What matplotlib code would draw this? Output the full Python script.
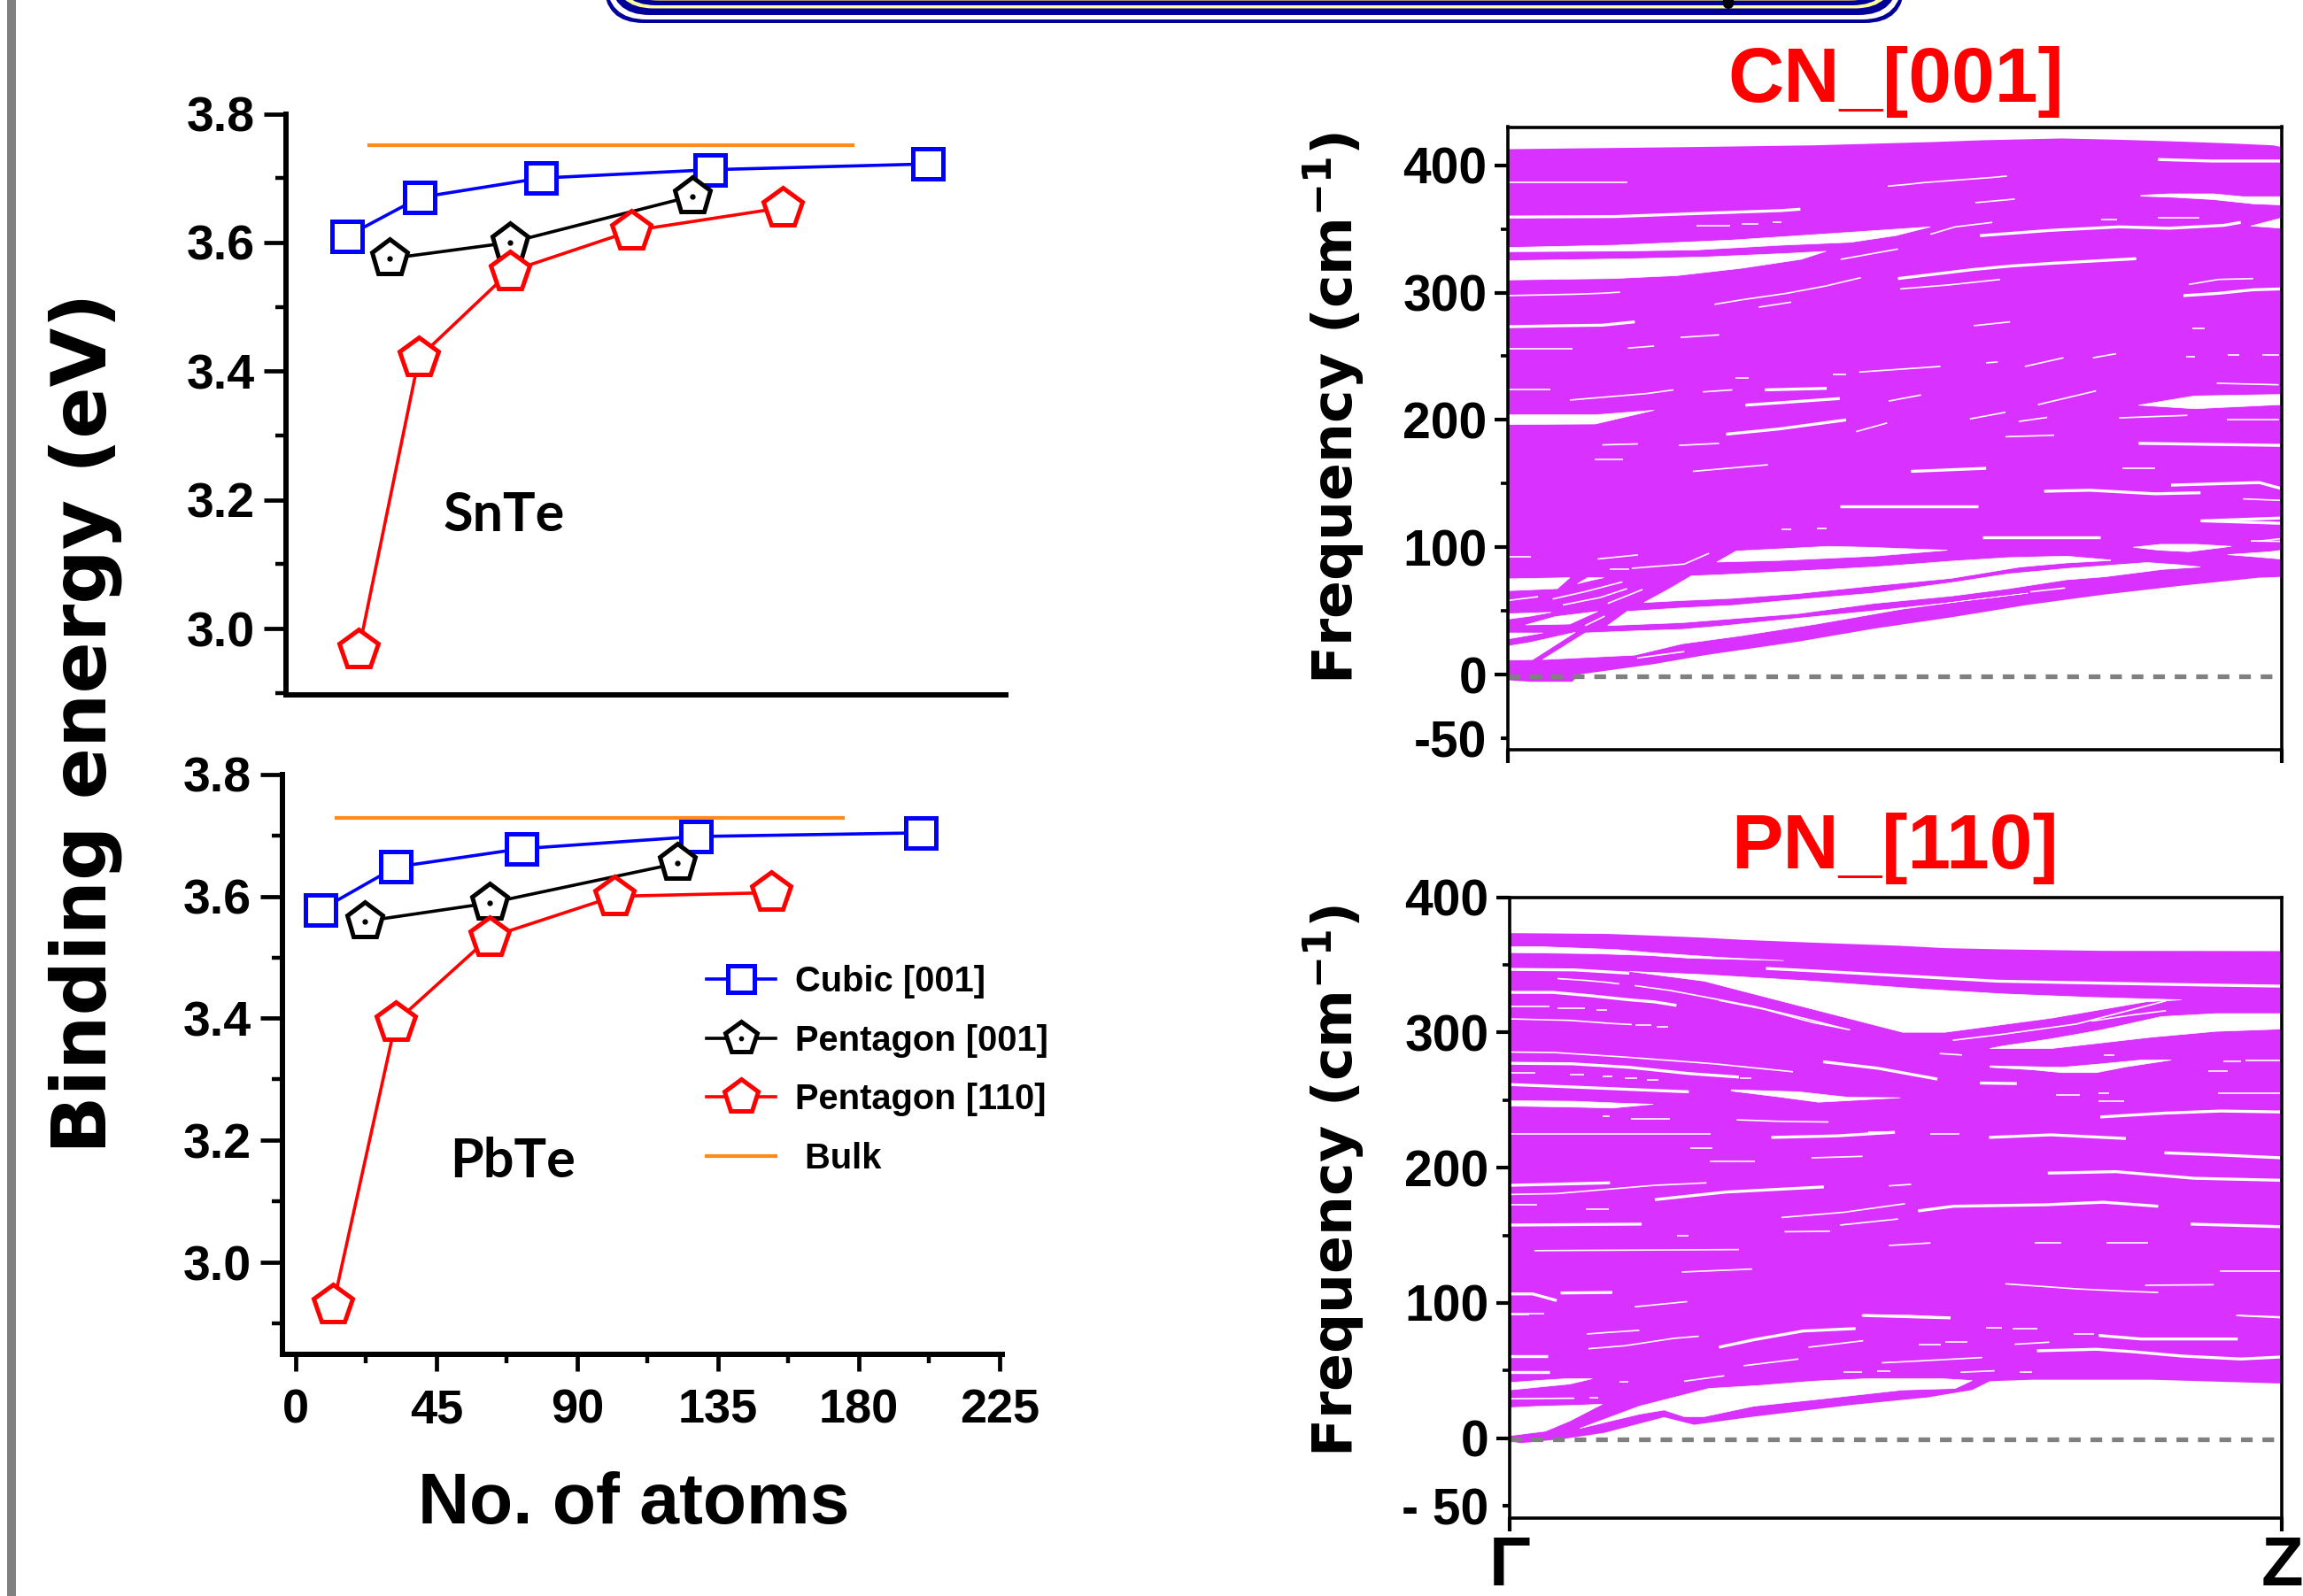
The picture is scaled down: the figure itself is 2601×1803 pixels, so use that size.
import numpy as np
import matplotlib
matplotlib.use("Agg")
import matplotlib.pyplot as plt
from matplotlib.patches import FancyBboxPatch, Ellipse, Rectangle
from matplotlib.ticker import MultipleLocator, FixedLocator

plt.rcParams["font.family"] = ["Liberation Sans", "DejaVu Sans"]
plt.rcParams["font.weight"] = "bold"
plt.rcParams["axes.unicode_minus"] = False
plt.rcParams["mathtext.fontset"] = "custom"
plt.rcParams["mathtext.bf"] = "DejaVu Sans:bold"
plt.rcParams["mathtext.rm"] = "DejaVu Sans:bold"

W, H = 2601, 1803

# Binding energy data, SnTe
snte_cubic_x = [15.4, 38.6, 77.3, 131.3, 201]
snte_cubic_y = [3.610, 3.670, 3.700, 3.713, 3.722]
snte_p001_x = [29, 67.5, 125.7]
snte_p001_y = [3.575, 3.600, 3.672]
snte_p110_x = [19.1, 38.3, 67.4, 106.2, 154.5]
snte_p110_y = [2.967, 3.421, 3.555, 3.618, 3.654]
snte_bulk_x = [22.4, 177]
snte_bulk_y = [3.751, 3.751]

# Binding energy data, PbTe
pbte_cubic_x = [8, 32, 72.1, 128, 200]
pbte_cubic_y = [3.578, 3.648, 3.678, 3.698, 3.704]
pbte_p001_x = [22, 62, 122]
pbte_p001_y = [3.559, 3.589, 3.654]
pbte_p110_x = [12, 32, 62, 102, 152]
pbte_p110_y = [2.930, 3.394, 3.533, 3.600, 3.606]
pbte_bulk_x = [13, 175]
pbte_bulk_y = [3.729, 3.729]

legend_labels = ["Cubic [001]", "Pentagon [001]", "Pentagon [110]", " Bulk"]

# CN_[001] phonon bands: envelope of the band mass
cn_top_k = [0, .231, .395, .478, .549, .613, .716, .79, .876, .938, .989, 1]
cn_top_f = [412.6, 414.2, 415.6, 417, 418.2, 419.6, 421, 420, 418.4, 417, 415.6, 414.2]
cn_low_k = [0, .029, .083, .093, .189, .255, .374, .474, .573, .672, .771, .87, .97, 1]
cn_low_f = [-4.4, -5.6, -5.6, .2, 8.3, 15.3, 25.8, 36.2, 45, 54.8, 62.9, 69.8, 76.1, 76.8]

# CN_[001]: open areas between the bands
cn_open = [
    [(0, 325), (.164, 326.6), (.257, 328), (.36, 330.7), (.411, 332.4), (.379, 326.1),
     (.302, 319.1), (.218, 313.3), (.135, 311), (0, 309.9)],
    [(0, 335.4), (.141, 337.2), (.289, 341.2), (.417, 346.3), (.546, 351.6), (.501, 344.7),
     (.443, 339.5), (.353, 337.2), (.244, 333.5), (.148, 332.6), (0, 332.1)],
    [(.96, 352.3), (1, 358.6), (1, 350.5)],
    [(.818, 376.4), (.854, 377.5), (.912, 377.5), (.95, 375.3), (1, 375.3), (1, 368.8),
     (.963, 369.7), (.912, 373), (.861, 374.8), (.818, 375.7)],
    [(0, 204), (.113, 204), (.189, 207.6), (.113, 196.8), (0, 196.4)],
    [(.815, 211.6), (.887, 218.8), (1, 220), (1, 212), (.887, 208.8)],
    [(.27, 88.4), (.295, 97), (.414, 100.7), (.464, 100), (.568, 97.7), (.473, 93), (.349, 89.6)],
    [(.808, 100), (.843, 102.3), (.89, 102.3), (.935, 100.7), (.88, 96.5), (.841, 97.7)],
    [(.93, 94.2), (.985, 96.5), (1, 97.7), (1, 90.7), (.955, 93)],
    [(.176, 56.6), (.209, 67.5), (.237, 77.5), (.275, 78.4), (.414, 82.6), (.483, 84.9),
     (.573, 89.1), (.647, 91.9), (.722, 93), (.779, 90), (.779, 89.6), (.722, 87.7),
     (.662, 84.5), (.573, 75.6), (.473, 69.8), (.374, 63.6), (.29, 59.9), (.225, 58.2)],
    [(.154, 49.6), (.225, 52.4), (.29, 54.3), (.349, 57.6), (.473, 64), (.573, 72.2),
     (.647, 79.1), (.722, 83.3), (.826, 88), (.87, 86.1), (.895, 84.5), (.846, 82.6),
     (.771, 76.8), (.722, 74.5), (.647, 67.5), (.573, 61.7), (.473, 55.9), (.374, 47.8),
     (.275, 43.2), (.225, 40.8), (.129, 38.5)],
    [(.045, 11.8), (.1, 32.7), (.164, 34.3), (.225, 35.5), (.275, 38.1), (.349, 42.7),
     (.473, 50.1), (.573, 56.6), (.672, 64), (.583, 57.5), (.508, 51.3), (.399, 39.7),
     (.3, 30.4), (.225, 24.2), (.164, 15.3)],
    [(0, 75.2), (.08, 76.1), (.064, 67.5), (0, 65.9)],
    [(.09, 71.4), (.103, 76.1), (.124, 76.1), (.106, 73.7)],
    [(0, 47.8), (.056, 48.9), (.029, 45.9), (0, 43.6)],
    [(.023, 39), (.08, 39.7), (.116, 49.6), (.061, 45.5)],
    [(0, 32.7), (.045, 32.7), (0, 28)],
    [(0, 22.3), (.029, 25.3), (.087, 33.2), (.032, 11.8), (0, 11.4)],
]

# CN_[001]: wider slits
cn_wide = [
    [(0, 359.3), (.138, 359.7), (.241, 362), (.353, 364.4), (.378, 365.5)],
    [(0, 273.2), (.064, 273.9), (.122, 274.4), (.164, 277)],
    [(.61, 344.7), (.70, 348.8), (.79, 351.6), (.854, 350.5), (.925, 352.8), (.947, 355.1)],
    [(.873, 297.6), (.918, 299.4), (.963, 302.2), (1, 302.9)],
    [(.504, 311), (.552, 314.5), (.6, 318), (.649, 320.8), (.706, 323.1), (.812, 326.6)],
    [(.282, 188.8), (.349, 192.8), (.437, 200)],
    [(.307, 211.6), (.429, 216.8)],
    [(.332, 223.6), (.412, 224.8)],
    [(.521, 159.6), (.618, 162)],
    [(.429, 132), (.608, 132)],
    [(.613, 107.6), (.765, 107.6)],
    [(.693, 144), (.752, 144.8), (.836, 142), (.895, 142.8)],
    [(.815, 181.6), (1, 180)],
    [(.857, 148.8), (.971, 150.8), (1, 146)],
    [(.895, 120.8), (1, 118.8)],
    [(.9, 120.8), (1, 123)],
    [(.84, 404.5), (.909, 403.3), (1, 403.3)],
]

# CN_[001]: thin slits
cn_thin = [
    [(0, 386.4), (.154, 386.4)],
    [(.244, 352.3), (.287, 352.3)], [(.302, 353.7), (.324, 353.7)], [(.342, 355.1), (.354, 355.1)],
    [(.491, 383.6), (.514, 384.8), (.538, 386.4), (.588, 388.7), (.626, 390.4), (.645, 391.5)],
    [(.604, 370.6), (.655, 373.4)],
    [(.546, 345.8), (.578, 351.6), (.626, 355.1)],
    [(.767, 357.6), (.787, 357.6)], [(.84, 358.8), (.894, 358.8)],
    [(.267, 290.8), (.302, 294.3), (.36, 299.4), (.411, 305.2), (.456, 311.7)],
    [(0, 297.6), (.087, 298.7), (.119, 299.4), (.145, 300.3)],
    [(.507, 302.9), (.57, 306), (.636, 310.3)],
    [(.88, 306.4), (.918, 310.3), (.963, 311)],
    [(.43, 326.1), (.504, 334.2)],
    [(.324, 288.5), (.366, 292.5)],
    [(.602, 274), (.649, 277)],
    [(0, 255.6), (.084, 255.6)], [(.155, 256.4), (.189, 258)],
    [(.223, 264.8), (.273, 266.8)], [(0, 223.6), (.055, 223.6)],
    [(.08, 215.6), (.181, 220.8), (.214, 223.6)],
    [(.122, 180.4), (.168, 181.2)], [(.221, 180), (.273, 181.6)],
    [(.112, 168.8), (.149, 168.8)], [(.239, 159.6), (.336, 164.8)],
    [(.252, 222), (.29, 223.6)], [(.294, 232.8), (.311, 232.8)],
    [(.42, 236), (.437, 236)], [(.454, 237.6), (.559, 242)],
    [(.492, 214.8), (.534, 219.6)], [(.45, 190.8), (.49, 197.6)],
    [(.618, 244.8), (.633, 245.5)], [(.668, 242), (.718, 248.8)], [(.756, 248.8), (.786, 252)],
    [(.597, 200.8), (.643, 206)], [(.66, 198.8), (.697, 202)],
    [(.685, 212), (.76, 222.8)], [(.643, 186.8), (.706, 188)],
    [(.794, 162), (.836, 162)], [(.916, 228.8), (.996, 227.6)],
    [(.79, 201.6), (.878, 203.6)], [(.929, 200.4), (.996, 200.4)],
    [(.95, 138), (1, 136.8)], [(.97, 104.8), (1, 106.8)],
    [(.885, 271.6), (.9, 271.6)], [(.877, 249.6), (.888, 249.6)],
    [(.93, 250.8), (.945, 250.8)], [(.975, 250.8), (.996, 250.8)],
    [(.353, 114), (.366, 114)], [(.399, 114.8), (.412, 114.8)],
    [(0, 92.4), (.03, 92.4)], [(.116, 90.8), (.168, 94)],
    [(.16, 83.5), (.228, 86.8), (.26, 95.3)], [(.132, 82.6), (.157, 82.6)],
    [(0, 58.2), (.039, 61.2)], [(.058, 59.4), (.1, 65.2), (.148, 72.8)],
    [(.071, 54.7), (.119, 60.5), (.154, 67.5)], [(.129, 55.9), (.174, 66.8)],
    [(.1, 38.5), (.125, 45.9)], [(.167, 13), (.228, 18.1)], [(.675, 65), (.72, 68)],
    [(.96, 105), (1, 104.6)],
]

# PN_[110] phonon bands: envelope of the band mass
pn_top_k = [0, .128, .197, .252, .303, .4, .503, .564, .638, .767, 1]
pn_top_f = [373.4, 372.8, 371.3, 370, 368.4, 366.2, 364.1, 362.3, 361.4, 360.3, 360.1]
pn_low_k = [0, .014, .072, .123, .2, .239, .316, .445, .541, .599, .622, .677, .831, .921, 1]
pn_low_f = [-2, -3.6, -.3, 4.1, 15.6, 10, 16, 24.8, 30.2, 35.7, 42.2, 43.3, 43.3, 41.8, 40.5]

# PN_[110]: open areas between the bands
pn_open = [
    [(.155, 345.1), (.252, 342.7), (.393, 337.9), (.535, 332), (.638, 328.5), (.754, 325.9),
     (.87, 324.1), (.824, 322.6), (.702, 310.6), (.564, 300.1), (.509, 300.1), (.445, 309.5),
     (.348, 323.7), (.252, 337.9)],
    [(0, 363.4), (.039, 363.4), (.139, 361.2), (.181, 359), (.277, 355.3), (.355, 353.1),
     (.232, 354.9), (.181, 356.9), (.11, 358.2), (0, 359)],
    [(.622, 288.1), (.638, 289.9), (.702, 295.3), (.767, 301.9), (.844, 311.7), (.915, 313.9),
     (1, 313.9), (1, 302.5), (.915, 300.8), (.83, 296.4), (.702, 288.1)],
    [(.622, 275.3), (.715, 274.2), (.767, 276.8), (.818, 279.6), (.857, 279.6), (.799, 274.6),
     (.76, 270.3), (.715, 270.3), (.677, 272.4), (.622, 274.2)],
    [(.287, 257.6), (.374, 256.1), (.438, 252.1), (.506, 251.7), (.4, 248.4), (.348, 252.4),
     (.287, 256.7)],
    [(0, 249.5), (.084, 249.1), (.139, 247.8), (.186, 246.9), (.133, 244.1), (.091, 244.7),
     (0, 245.6)],
    [(0, 22.6), (.039, 23.7), (.088, 24.4), (.12, 25.2), (.078, 12.8), (.046, 5.2), (.02, 3.4),
     (0, 1.9)],
    [(.091, 7.3), (.168, 23.7), (.258, 36.8), (.323, 39), (.393, 42.2), (.461, 44), (.561, 44),
     (.599, 42.7), (.577, 36.8), (.509, 35.7), (.406, 29.2), (.316, 23.7), (.252, 16),
     (.226, 16), (.2, 20.9), (.168, 17.8), (.123, 11.7)],
    [(0, 41.2), (.036, 42.7), (.072, 44), (.107, 44), (.078, 40.1), (.046, 38.3), (0, 35.7)],
]

# PN_[110]: wider slits
pn_wide = [
    [(0, 346.6), (.084, 346.2), (.155, 343.8)],
    [(.332, 347.3), (.393, 345.5), (.483, 342.7), (.631, 337.9), (.767, 336.4), (.895, 335.1),
     (1, 334.2)],
    [(0, 329.6), (.056, 329.6), (.107, 327), (.155, 324.1), (.187, 322.6), (.216, 320)],
    [(0, 277.2), (.081, 276.8), (.155, 274.2), (.232, 269.6), (.297, 267)],
    [(.406, 278.3), (.477, 273.5), (.554, 265.5)],
    [(0, 261.5), (.075, 259.8), (.168, 257.6), (.232, 256.1)],
    [(.609, 262.6), (.657, 262.2)],
    [(.765, 237.5), (.85, 240.4), (.921, 241.9), (1, 241.2)],
    [(.339, 222.4), (.423, 223.5), (.499, 226.2)],
    [(.621, 222.4), (.701, 224.3), (.798, 221.6)],
    [(.697, 196), (.785, 197.1), (.886, 192.2), (1, 190.7)],
    [(.848, 211), (.912, 209.6), (1, 207.3)],
    [(0, 187), (.13, 188.8)],
    [(.188, 176.4), (.28, 182), (.407, 185.8)],
    [(0, 157.6), (.171, 158.3)],
    [(.529, 168.1), (.575, 171.5), (.693, 172.6), (.769, 174.5), (.84, 171.5)],
    [(.882, 158.3), (1, 156.4)],
    [(.066, 107.4), (.133, 107.8)],
    [(0, 106.7), (.03, 106.7), (.061, 101.8)],
    [(.457, 90.8), (.571, 89)],
    [(0, 60.8), (.049, 60.8)], [(0, 49.2), (.052, 49.2)],
    [(.271, 67.3), (.316, 72.8), (.38, 79.3), (.448, 81.1)],
    [(.683, 64.7), (.76, 65.8), (.805, 64.1), (.87, 60.8), (.947, 58.6), (1, 60.1)],
    [(.763, 76), (.818, 73.4), (.943, 73.4)],
]

# PN_[110]: thin slits
pn_thin = [
    [(.062, 339.8), (.097, 338.5), (.123, 337.2), (.142, 335.9)],
    [(.162, 334.6), (.207, 331.1), (.252, 326.3), (.316, 319.3), (.38, 310.6), (.432, 303)],
    [(.271, 323.7), (.329, 317.2), (.393, 307.3), (.441, 301.9)],
    [(0, 318.9), (.052, 318.9)], [(.062, 317.8), (.097, 317.8)], [(.112, 316.5), (.126, 316.5)],
    [(0, 310), (.078, 308.9), (.13, 306.7), (.158, 305.8)],
    [(.163, 305.4), (.184, 305.4)], [(.19, 304), (.205, 304)],
    [(.574, 294.2), (.638, 298.6), (.734, 306.2), (.85, 323.3)],
    [(.754, 308.4), (.805, 312.8), (.85, 316.1)],
    [(0, 285.5), (.059, 285.1), (.149, 281.8), (.265, 276.8), (.367, 270.9)],
    [(0, 269.8), (.033, 269.8)], [(.078, 268.7), (.096, 268.7)], [(.12, 267.6), (.133, 267.6)],
    [(.149, 266.1), (.165, 266.1)], [(.178, 264.8), (.193, 264.8)], [(.298, 266.1), (.313, 266.1)],
    [(.557, 284.4), (.586, 283.3)], [(.707, 253.9), (.738, 253.9)], [(.763, 255), (.776, 255)],
    [(.763, 249.1), (.796, 249.1)], [(.918, 255), (1, 255)], [(.905, 271.3), (.93, 271.3)],
    [(.924, 278.3), (.947, 278.3)], [(.953, 279.6), (1, 279.6)], [(.77, 283.3), (.783, 283.3)],
    [(.12, 238), (.13, 238)], [(.157, 236.4), (.207, 236.4)],
    [(.294, 235.4), (.348, 234.3), (.413, 233.8)], [(.464, 226), (.496, 226)],
    [(0, 224.7), (.26, 224.7)], [(.234, 214.8), (.263, 214.8)], [(.259, 204.7), (.318, 204.7)],
    [(.391, 207.3), (.457, 208.4)], [(.545, 224.7), (.583, 224.7)], [(.491, 186.6), (.52, 187.7)],
    [(0, 180.2), (.061, 180.9), (.188, 187), (.255, 188.8)],
    [(0, 172.6), (.036, 172.6)], [(.099, 169.6), (.129, 169.6)],
    [(.352, 163.2), (.432, 167), (.512, 173.4)], [(.356, 152.7), (.415, 153)],
    [(.428, 157.6), (.503, 162.1)], [(.032, 138.7), (.297, 139.5)], [(.217, 150), (.232, 150)],
    [(.223, 122.9), (.314, 125.1)], [(.491, 142.5), (.545, 144.4)], [(.68, 144.4), (.714, 144.4)],
    [(.773, 144.4), (.827, 144.4)], [(.92, 123.6), (1, 123.6)],
    [(.642, 114.2), (.735, 110.4), (.802, 108.6), (.84, 107.8)], [(.823, 113.1), (.912, 113.5)],
    [(0, 92), (.045, 92)], [(.162, 97.2), (.23, 101)], [(.941, 90.8), (1, 89.7)],
    [(0, 29.2), (.084, 29.6)], [(.103, 30), (.115, 30)], [(0, 91.8), (.025, 91.8)],
    [(.1, 77.1), (.126, 78.2), (.168, 79.8)], [(.102, 66.2), (.149, 68.4), (.213, 73.9), (.245, 75.4)],
    [(.387, 67.3), (.458, 72.1)], [(.456, 90.7), (.519, 90.7), (.57, 89.1)],
    [(.303, 53.6), (.374, 58.6)], [(.482, 55.8), (.528, 57.1), (.577, 58.6), (.612, 59.7)],
    [(.731, 77), (.757, 77)], [(.654, 69.5), (.699, 71)], [(.53, 69.5), (.558, 69.5)],
    [(.564, 71), (.593, 71)], [(.617, 82), (.638, 82)], [(.651, 80.9), (.683, 80.9)],
    [(.432, 48.8), (.456, 48.8)], [(.476, 49.9), (.493, 49.9)], [(.584, 48.8), (.628, 49.9)],
    [(.66, 48.8), (.677, 48.8)], [(.226, 42.2), (.278, 46.2)], [(.142, 41.6), (.154, 41.6)],
    [(.944, 90.7), (1, 89.1)],
]

band_color = "#D931FF"


def add_axes_px(left, top, right, bottom):
    return fig.add_axes([left / W, 1 - bottom / H, (right - left) / W, (bottom - top) / H])


def text_px(x, y, s, **kwargs):
    return fig.text(x / W, 1 - y / H, s, ha="center", **kwargs)


def plot_binding(ax, cubic, p001, p110, bulk):
    ax.plot(bulk[0], bulk[1], color="#FF8C1A", lw=3, zorder=2)
    l1, = ax.plot(cubic[0], cubic[1], color="#0000FF", lw=2.6, marker="s", ms=24, mew=3.6, mfc="white", zorder=3)
    l2, = ax.plot(p001[0], p001[1], color="black", lw=2.6, marker="p", ms=31, mew=3.6, mfc="white", zorder=4)
    d2, = ax.plot(p001[0], p001[1], ls="none", color="black", marker="o", ms=3.5, zorder=4)
    l3, = ax.plot(p110[0], p110[1], color="#FF0000", lw=2.6, marker="p", ms=33, mew=3.6, mfc="white", zorder=5)
    for s in ["top", "right"]:
        ax.spines[s].set_visible(False)
    for s in ["left", "bottom"]:
        ax.spines[s].set_linewidth(4.3)
    ax.set_xlim(-4.2, 225.9)
    ax.set_yticks([3.0, 3.2, 3.4, 3.6, 3.8])
    ax.set_yticklabels(["3.0", "3.2", "3.4", "3.6", "3.8"])
    ax.yaxis.set_minor_locator(MultipleLocator(0.1))
    ax.tick_params(axis="y", which="major", length=18, width=3.4, labelsize=40, pad=7)
    ax.tick_params(axis="y", which="minor", length=9, width=3.2)
    ax.patch.set_alpha(0)
    return l1, l2, d2, l3


def plot_bands(ax, top_k, top_f, low_k, low_f, open_areas, wide, thin):
    ax.fill(np.r_[top_k, low_k[::-1]], np.r_[top_f, low_f[::-1]], color=band_color, lw=0, zorder=2)
    for poly in open_areas:
        pts = np.array(poly)
        ax.fill(pts[:, 0], pts[:, 1], color="white", lw=0.5, zorder=3)
    for seg in wide:
        pts = np.array(seg)
        ax.plot(pts[:, 0], pts[:, 1], color="white", lw=2.4, solid_capstyle="butt", zorder=3)
    for seg in thin:
        pts = np.array(seg)
        ax.plot(pts[:, 0], pts[:, 1], color="white", lw=1.2, solid_capstyle="butt", zorder=3)
    ax.plot([0, 0.99], [-1, -1], color="#808080", lw=3.8, dashes=(2.5, 2.1), zorder=4)
    ax.set_xlim(0, 1)
    ax.set_xticks([0, 1])
    for s in ax.spines.values():
        s.set_linewidth(2.6)
        s.set_zorder(6)
    ax.tick_params(axis="both", which="major", length=11, width=3)
    ax.tick_params(axis="y", which="major", labelsize=41, pad=6)
    ax.tick_params(axis="y", which="minor", length=6, width=2.6)
    ax.yaxis.set_minor_locator(FixedLocator([50, 150, 250, 350]))


fig = plt.figure(figsize=(W / 100, H / 100), dpi=100)

# slide decoration around the chart
bg = fig.add_axes([0, 0, 1, 1])
bg.set_xlim(0, W)
bg.set_ylim(H, 0)
bg.axis("off")
bg.add_patch(Rectangle((8, 0), 10, H, color="#808080", lw=0))
frames = [(682, 26, "#000099"), (685, 22, "white"), (689, 17, "#000099"), (693, 9.5, "#FFFF99"),
          (696, 6, "#000099"), (700, 1, "#A09070")]
for inset, low, col in frames:
    bg.add_patch(FancyBboxPatch((inset, -100), 2833 - 2 * inset, low + 100,
                                boxstyle="round,pad=0,rounding_size=45", color=col, lw=0))
bg.add_patch(Ellipse((1952, 3), 13, 14, color="black", lw=0))

# SnTe
ax1 = add_axes_px(323, 128.5, 1136, 785)
plot_binding(ax1, (snte_cubic_x, snte_cubic_y), (snte_p001_x, snte_p001_y),
             (snte_p110_x, snte_p110_y), (snte_bulk_x, snte_bulk_y))
ax1.set_ylim(2.897, 3.8)
ax1.set_xticks([])
text_px(569, 600, "SnTe", fontsize=44, family="Lato", weight="bold")

# PbTe
ax2 = add_axes_px(319, 874.7, 1132, 1529.6)
handles = plot_binding(ax2, (pbte_cubic_x, pbte_cubic_y), (pbte_p001_x, pbte_p001_y),
                       (pbte_p110_x, pbte_p110_y), (pbte_bulk_x, pbte_bulk_y))
ax2.set_ylim(2.85, 3.8)
ax2.set_xticks([0, 45, 90, 135, 180, 225])
ax2.xaxis.set_minor_locator(MultipleLocator(22.5))
ax2.tick_params(axis="x", which="major", length=14, width=3.4, labelsize=39, pad=14)
ax2.tick_params(axis="x", which="minor", length=7, width=3.2)
text_px(579, 1330, "PbTe", fontsize=44, family="Lato", weight="bold")

bulk_line = ax2.get_lines()[0]
ax2.legend([handles[0], (handles[1], handles[2]), handles[3], bulk_line], legend_labels,
           loc="upper left", bbox_to_anchor=(798 / W, 1 - 1090 / H), bbox_transform=fig.transFigure,
           frameon=False, fontsize=28.7, handlelength=1.95, handletextpad=0.55, labelspacing=0.72,
           borderpad=0, borderaxespad=0, markerscale=0.88)

text_px(96, 817, "Binding energy (eV)", fontsize=62, family="DejaVu Sans", weight="bold",
        rotation=90, va="center")
text_px(716, 1700, "No. of atoms", fontsize=58, va="center")

# CN_[001]
ax3 = add_axes_px(1703, 143.5, 2577, 847)
plot_bands(ax3, cn_top_k, cn_top_f, cn_low_k, cn_low_f, cn_open, cn_wide, cn_thin)
ax3.set_ylim(-59, 430)
ax3.set_yticks([-50, 0, 100, 200, 300, 400])
ax3.set_yticklabels(["-50", "0", "100", "200", "300", "400"])
ax3.yaxis.get_major_ticks()[0].tick1line.set_markersize(6)
ax3.set_xticklabels([])
text_px(2141, 115, "CN_[001]", fontsize=63, color="#FF0000", va="baseline")

# PN_[110]
ax4 = add_axes_px(1705, 1013.5, 2577, 1715)
plot_bands(ax4, pn_top_k, pn_top_f, pn_low_k, pn_low_f, pn_open, pn_wide, pn_thin)
ax4.set_ylim(-59, 400)
ax4.set_yticks([-50, 0, 100, 200, 300, 400])
ax4.set_yticklabels(["- 50", "0", "100", "200", "300", "400"])
ax4.yaxis.get_major_ticks()[0].tick1line.set_markersize(6)
ax4.set_xticklabels(["Γ", "Z"])
ax4.tick_params(axis="x", labelsize=56, pad=3)
text_px(2140, 981, "PN_[110]", fontsize=63, color="#FF0000", va="baseline")

freq_label = r"Frequency (cm$^{\mathbf{-1}}$)"
text_px(1507, 461, freq_label, fontsize=45.5, family="DejaVu Sans", weight="bold", rotation=90, va="center")
text_px(1507, 1334, freq_label, fontsize=45.5, family="DejaVu Sans", weight="bold", rotation=90, va="center")

fig.savefig("out.png", dpi=100)
